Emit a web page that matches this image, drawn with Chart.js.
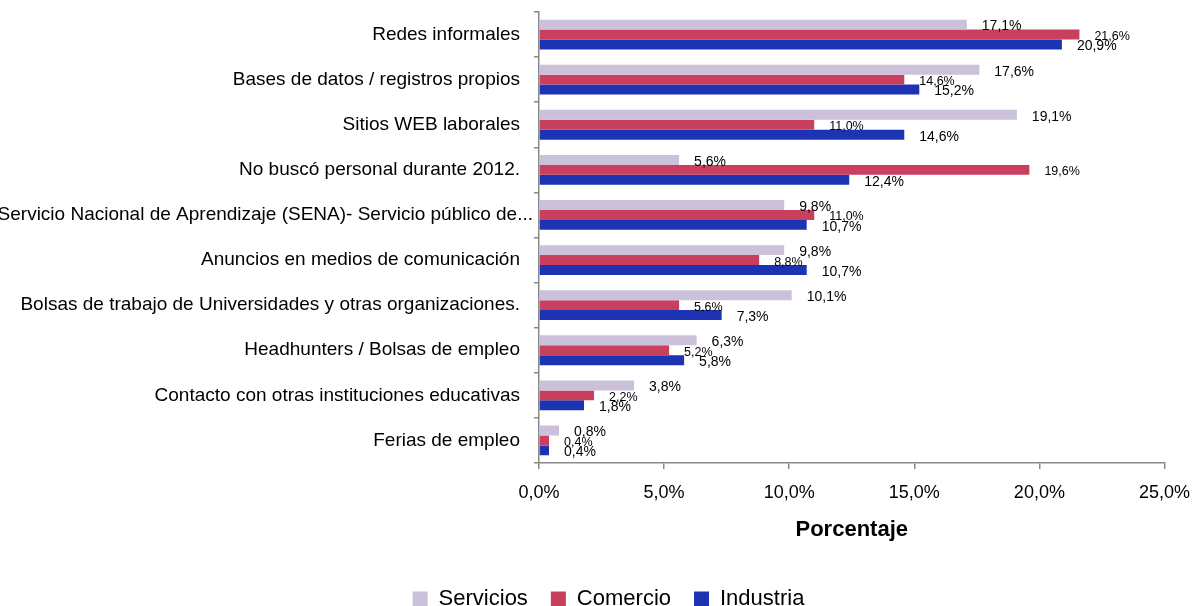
<!DOCTYPE html>
<html>
<head>
<meta charset="utf-8">
<script src="https://cdn.jsdelivr.net/npm/chart.js@4"></script>
<style>
  body { margin: 0; background: #fff; }
  #wrap { width: 1203px; height: 606px; }
</style>
</head>
<body>
<div id="wrap"><canvas id="myChart" width="1203" height="606"></canvas></div>
<script>
const categories = [
    'Redes informales',
    'Bases de datos / registros propios',
    'Sitios WEB laborales',
    'No buscó personal durante 2012.',
    'Servicio Nacional de Aprendizaje (SENA)- Servicio público de...',
    'Anuncios en medios de comunicación',
    'Bolsas de trabajo de Universidades y otras organizaciones.',
    'Headhunters / Bolsas de empleo',
    'Contacto con otras instituciones educativas',
    'Ferias de empleo'
];
const servicios = [17.1, 17.6, 19.1, 5.6, 9.8, 9.8, 10.1, 6.3, 3.8, 0.8];
const comercio = [21.6, 14.6, 11.0, 19.6, 11.0, 8.8, 5.6, 5.2, 2.2, 0.4];
const industria = [20.9, 15.2, 14.6, 12.4, 10.7, 10.7, 7.3, 5.8, 1.8, 0.4];
const xTicks = [0, 5, 10, 15, 20, 25];

const FONT = "'Liberation Sans', Arial, sans-serif";
const fmt = v => v.toFixed(1).replace('.', ',') + '%';

// value labels to the right of each bar
const barLabels = {
    id: 'barLabels',
    afterDatasetsDraw(chart) {
        const ctx = chart.ctx;
        ctx.save();
        ctx.fillStyle = '#000';
        ctx.textAlign = 'left';
        ctx.textBaseline = 'middle';
        chart.data.datasets.forEach((ds, i) => {
            const meta = chart.getDatasetMeta(i);
            ctx.font = ds.labelSize + 'px ' + FONT;
            meta.data.forEach((bar, j) => {
                ctx.fillText(fmt(ds.data[j]), bar.x + 15, bar.y + 2);
            });
        });
        ctx.restore();
    }
};

// legend sits a bit right of centre; the truncated SENA label hugs the axis
const tweaks = {
    id: 'tweaks',
    afterLayout(chart) {
        chart.legend.left += 26;
        chart.legend.right += 26;
    },
    beforeDraw(chart) {
        const items = chart.scales.y.getLabelItems();
        if (items[4] && !items[4].shifted) {
            items[4].options.translation[0] += 13;
            items[4].shifted = true;
        }
    }
};

const ctx = document.getElementById('myChart').getContext('2d');
new Chart(ctx, {
    type: 'bar',
    data: {
        labels: categories,
        datasets: [
            { label: 'Servicios', data: servicios, backgroundColor: '#CCC1DA', labelSize: 14 },
            { label: 'Comercio', data: comercio, backgroundColor: '#C9405E', labelSize: 12.5 },
            { label: 'Industria', data: industria, backgroundColor: '#1C33B4', labelSize: 14 }
        ]
    },
    options: {
        indexAxis: 'y',
        responsive: false,
        animation: false,
        categoryPercentage: 0.66,
        barPercentage: 1,
        layout: { padding: { left: 0, right: 38, top: 12, bottom: -14 } },
        scales: {
            x: {
                min: 0,
                max: 25,
                afterBuildTicks: s => { s.ticks = xTicks.map(v => ({ value: v })); },
                afterFit: s => { s.height = 102; },
                border: { color: '#898989', width: 1.5 },
                grid: { drawOnChartArea: false, tickLength: 6, color: '#898989', lineWidth: 1.5 },
                ticks: {
                    padding: 13,
                    color: '#000',
                    font: { family: FONT, size: 18 },
                    callback: v => fmt(v)
                },
                title: {
                    display: true,
                    text: 'Porcentaje',
                    color: '#000',
                    font: { family: FONT, size: 22, weight: 'bold' },
                    padding: { top: 0, bottom: 22 }
                }
            },
            y: {
                afterFit: s => {
                    s.width = 539;
                    s.paddingTop = 0;
                    s.paddingBottom = 0;
                },
                border: { color: '#898989', width: 1.5 },
                grid: { drawOnChartArea: false, tickLength: 5, color: '#898989', lineWidth: 1.5 },
                ticks: {
                    padding: 14,
                    color: '#000',
                    autoSkip: false,
                    font: { family: FONT, size: 19 }
                }
            }
        },
        plugins: {
            legend: {
                position: 'bottom',
                labels: {
                    boxWidth: 15,
                    boxHeight: 15,
                    padding: 23,
                    color: '#000',
                    font: { family: FONT, size: 22 }
                }
            },
            tooltip: { enabled: false }
        }
    },
    plugins: [barLabels, tweaks]
});
</script>
</body>
</html>
